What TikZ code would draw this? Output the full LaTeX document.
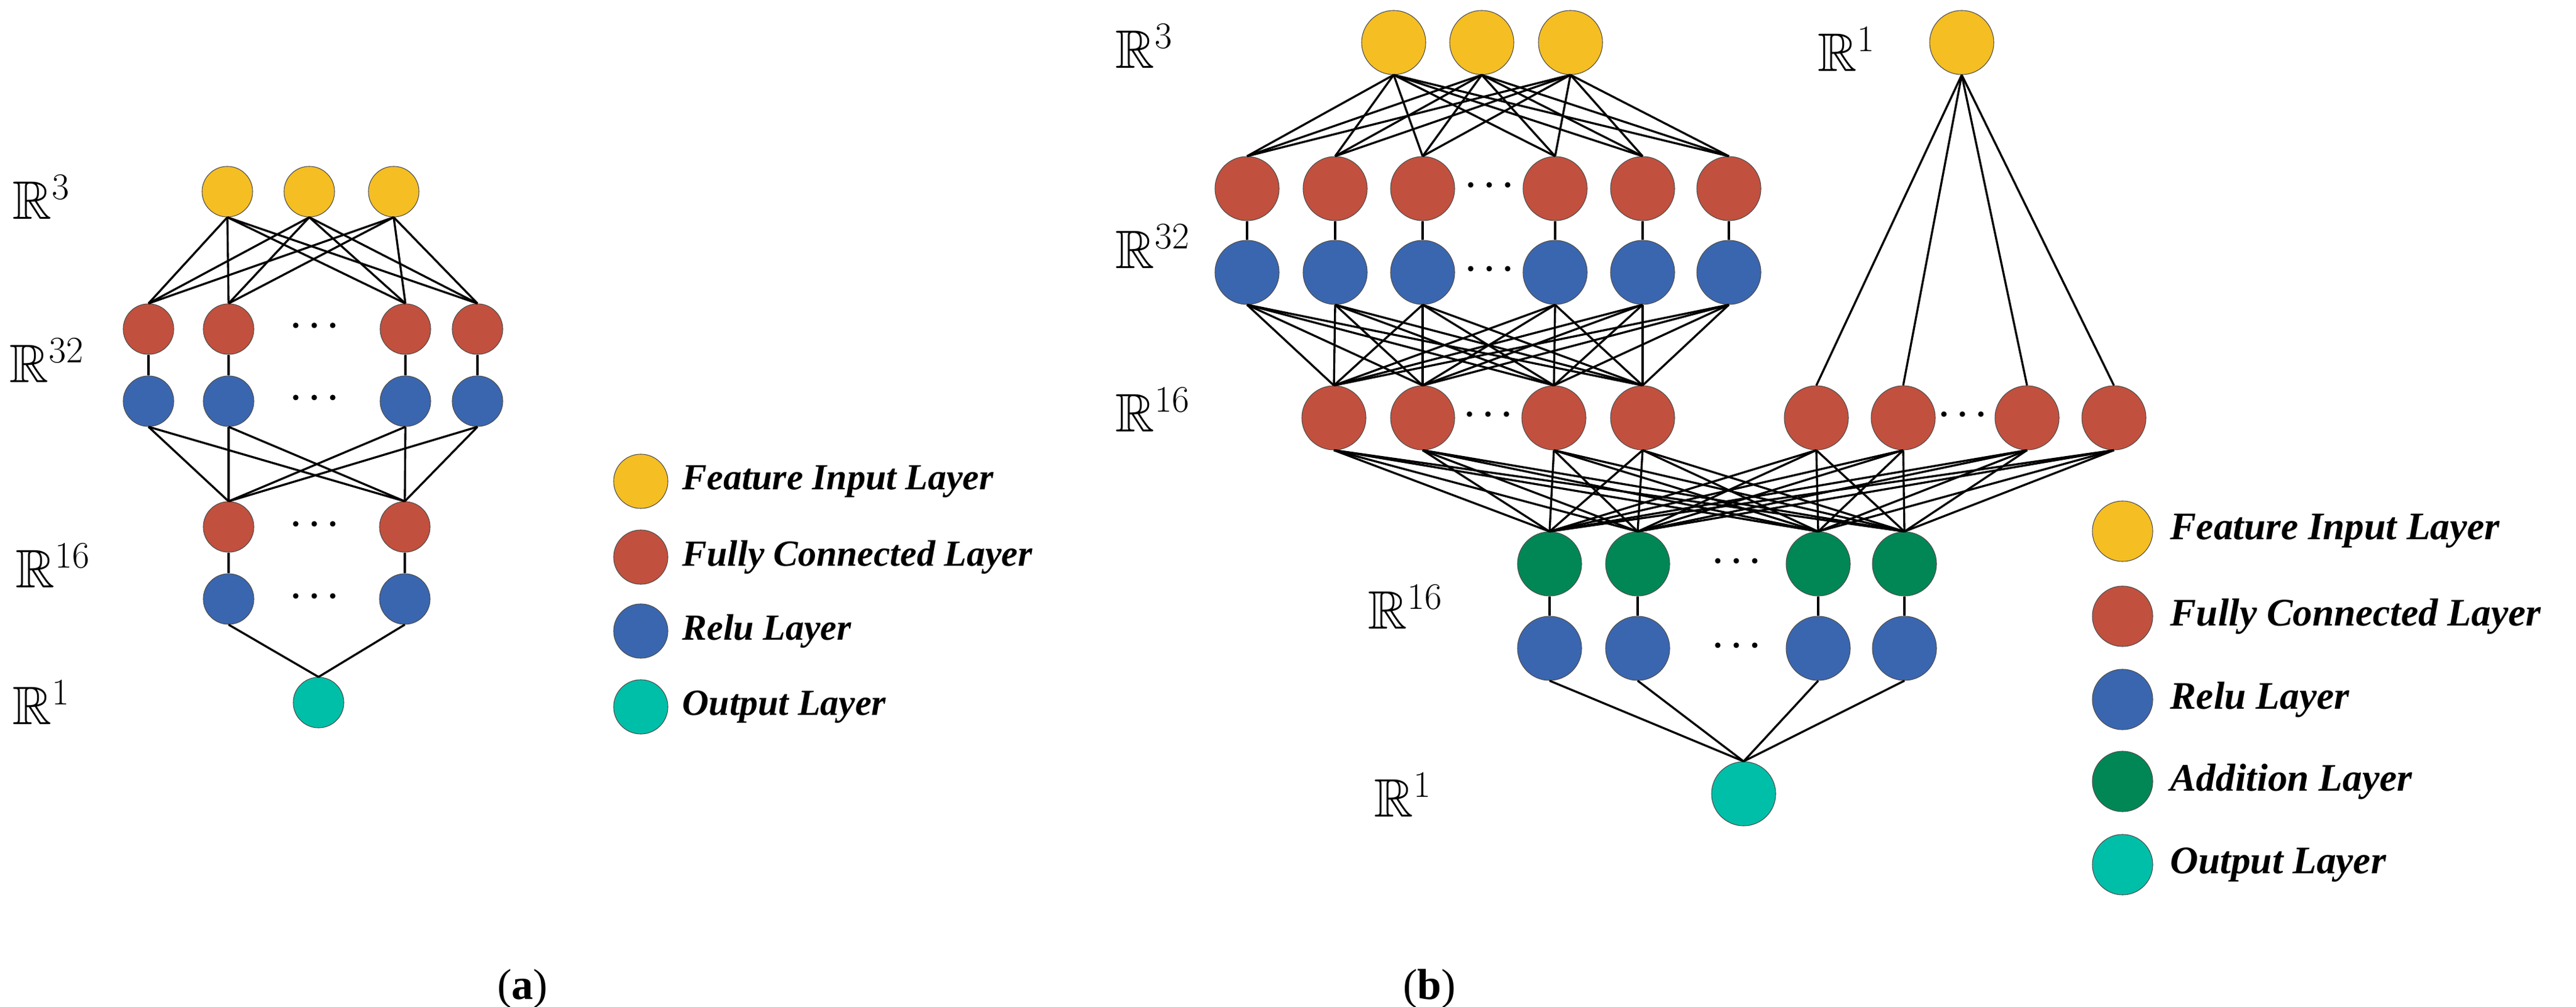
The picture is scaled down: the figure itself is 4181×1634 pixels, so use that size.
\documentclass[tikz,border=0pt]{standalone}
\usepackage{amssymb}
\usepackage{fontspec}
\setmainfont{Liberation Serif}
\begin{document}
\begin{tikzpicture}[x=0.01cm,y=-0.01cm,
  nd/.style={circle,draw=black!70,line width=0.3pt,inner sep=0pt},
  na/.style={nd,minimum size=0.82cm},
  nb/.style={nd,minimum size=1.04cm},
  lg/.style={nd,minimum size=0.98cm},
  yel/.style={fill=cY},red/.style={fill=cR},blu/.style={fill=cB},grn/.style={fill=cG},cya/.style={fill=cC},
  ed/.style={line width=0.95pt},
  lab/.style={font=\fontsize{25}{30}\selectfont,inner sep=0pt},
  lgt/.style={anchor=west,font=\fontsize{17}{20}\selectfont\bfseries\itshape,inner sep=0pt},
  dot/.style={circle,fill=black,inner sep=0pt,minimum size=0.09cm}]
\definecolor{cY}{HTML}{F5BE23}\definecolor{cR}{HTML}{C2503E}\definecolor{cB}{HTML}{3A66B0}
\definecolor{cG}{HTML}{008755}\definecolor{cC}{HTML}{00BFA8}
\useasboundingbox (0,0) rectangle (4181,1634);
\newcommand{\mydots}[3]{\node[dot] (#3a) at (#1-30,#2) {};\node[dot] (#3b) at (#1,#2) {};\node[dot] (#3c) at (#1+30,#2) {};}
% ---------- (a)
\foreach \i/\x in {1/369,2/502,3/639} \node[na,yel] (ai\i) at (\x,311) {};
\foreach \i/\x in {1/241,2/371,3/658,4/775} {\node[na,red] (af\i) at (\x,534) {};\node[na,blu] (ar\i) at (\x,651) {};\draw[ed] (af\i) -- (ar\i);}
\foreach \i/\x in {1/371,2/657} {\node[na,red] (ag\i) at (\x,855) {};\node[na,blu] (as\i) at (\x,972) {};\draw[ed] (ag\i) -- (as\i);}
\node[na,cya] (ao) at (517,1140) {};
\mydots{510}{528}{ad1}\mydots{510}{645}{ad2}\mydots{510}{850}{ad3}\mydots{510}{967}{ad4}
\foreach \i in {1,2,3} \foreach \j in {1,2,3,4} \draw[ed] (ai\i.south) -- (af\j.north);
\foreach \i in {1,2,3,4} \foreach \j in {1,2} \draw[ed] (ar\i.south) -- (ag\j.north);
\foreach \j in {1,2} \draw[ed] (as\j.south) -- (ao.north);
\node[lab,anchor=west] (la1) at (20,320) {$\mathbb{R}^3$};
\node[lab,anchor=west] (la2) at (15,585) {$\mathbb{R}^{32}$};
\node[lab,anchor=west] (la3) at (25,918) {$\mathbb{R}^{16}$};
\node[lab,anchor=west] (la4) at (20,1140) {$\mathbb{R}^1$};
\foreach \k/\y/\c/\t in {1/781/yel/Feature Input Layer,2/904/red/Fully Connected Layer,3/1024/blu/Relu Layer,4/1147/cya/Output Layer}
 {\node[lg,\c,minimum size=0.88cm] (alc\k) at (1040,\y) {};\node[lgt] (alt\k) at (1107,\y) {\t};}
\node[font=\fontsize{20}{24}\selectfont] (capa) at (848,1605) {(\textbf{a})};
% ---------- (b)
\foreach \i/\x in {1/2262,2/2405,3/2549} \node[nb,yel] (bi\i) at (\x,69) {};
\node[nb,yel] (bj) at (3184,69) {};
\foreach \i/\x in {1/2024,2/2167,3/2309,4/2524,5/2666,6/2806} {\node[nb,red] (bf\i) at (\x,306) {};\node[nb,blu] (br\i) at (\x,442) {};\draw[ed] (bf\i) -- (br\i);}
\foreach \i/\x in {1/2165,2/2309,3/2522,4/2666,5/2948,6/3089,7/3290,8/3431} \node[nb,red] (bg\i) at (\x,678) {};
\foreach \i/\x in {1/2515,2/2658,3/2951,4/3091} {\node[nb,grn] (ba\i) at (\x,915) {};\node[nb,blu] (bs\i) at (\x,1052) {};\draw[ed] (ba\i) -- (bs\i);}
\node[nb,cya] (bo) at (2830,1288) {};
\mydots{2417}{300}{bd1}\mydots{2417}{436}{bd2}\mydots{2415}{672}{bd3}\mydots{3185}{672}{bd4}\mydots{2818}{910}{bd5}\mydots{2818}{1047}{bd6}
\foreach \i in {1,2,3} \foreach \j in {1,...,6} \draw[ed] (bi\i.south) -- (bf\j.north);
\foreach \i in {1,...,6} \foreach \j in {1,2,3,4} \draw[ed] (br\i.south) -- (bg\j.north);
\foreach \j in {5,6,7,8} \draw[ed] (bj.south) -- (bg\j.north);
\foreach \i in {1,...,8} \foreach \j in {1,2,3,4} \draw[ed] (bg\i.south) -- (ba\j.north);
\foreach \j in {1,2,3,4} \draw[ed] (bs\j.south) -- (bo.north);
\node[lab,anchor=west] (lb1) at (1810,75) {$\mathbb{R}^3$};
\node[lab,anchor=west] (lb2) at (1810,400) {$\mathbb{R}^{32}$};
\node[lab,anchor=west] (lb3) at (1810,665) {$\mathbb{R}^{16}$};
\node[lab,anchor=west] (lb4) at (2950,80) {$\mathbb{R}^1$};
\node[lab,anchor=west] (lb5) at (2220,985) {$\mathbb{R}^{16}$};
\node[lab,anchor=west] (lb6) at (2230,1290) {$\mathbb{R}^1$};
\foreach \k/\y/\c/\t in {1/862/yel/Feature Input Layer,2/1000/red/Fully Connected Layer,3/1135/blu/Relu Layer,4/1268/grn/Addition Layer,5/1403/cya/Output Layer}
 {\node[lg,\c] (blc\k) at (3445,\y) {};\node[lgt,font=\fontsize{18}{21}\selectfont\bfseries\itshape] (blt\k) at (3522,\y) {\t};}
\node[font=\fontsize{20}{24}\selectfont] (capb) at (2320,1605) {(\textbf{b})};
\end{tikzpicture}
\end{document}
